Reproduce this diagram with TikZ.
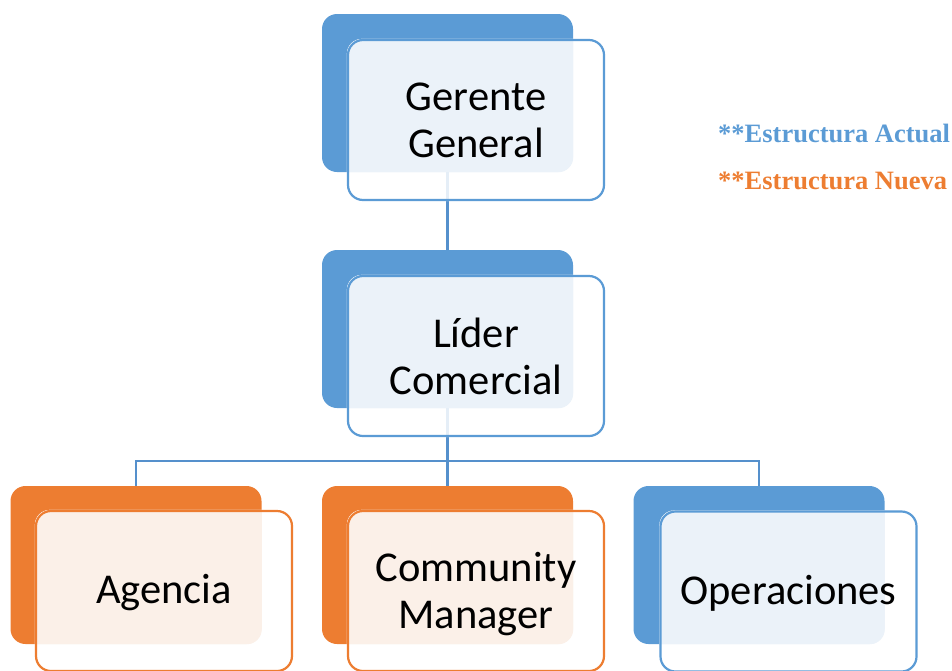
\documentclass[tikz,border=0pt]{standalone}
\usepackage{fontspec}
\setmainfont{Carlito}
\newfontfamily\legendfont{Liberation Serif}
\definecolor{bl}{HTML}{5B9BD5}
\definecolor{bllight}{HTML}{EBF2F9}
\definecolor{og}{HTML}{ED7D31}
\definecolor{oglight}{HTML}{FBF0E8}
\definecolor{conn}{HTML}{5590CC}
\pgfdeclarelayer{l1}\pgfdeclarelayer{l2}\pgfsetlayers{l1,l2,main}
\newcommand\overlapfill[3]{%
  \begin{scope}
    \clip[rounded corners=15pt] (#1.south west) rectangle (#1.north east);
    \fill[#3, rounded corners=15pt] (#2.south west) rectangle (#2.north east);
  \end{scope}}
\begin{document}
\begin{tikzpicture}[x=1pt,y=-1pt,
  backbox/.style={rectangle, rounded corners=15pt, fill=#1, draw=none, minimum width=251pt, minimum height=158pt, inner sep=0pt},
  frontbox/.style={rectangle, rounded corners=15pt, draw=#1, line width=2.2pt, minimum width=256pt, minimum height=160pt, inner sep=0pt},
  boxtext/.style={align=center, inner sep=0pt, font=\fontsize{42.5}{47}\selectfont},
  conline/.style={draw=conn, line width=2.8pt},
  legend/.style={anchor=base west, inner sep=0pt, font=\legendfont\bfseries\fontsize{26.5}{30}\selectfont}
]
\useasboundingbox (0,0) rectangle (952,670);
% front boxes
\node[frontbox=bl] (gf) at (476,120) {};
\node[frontbox=bl] (lf) at (476,356) {};
\node[frontbox=og] (af) at (164,591) {};
\node[frontbox=og] (cf) at (476,591) {};
\node[frontbox=bl] (of) at (788.5,591.5) {};
% texts
\node[boxtext] (gt) at (476,120) {Gerente\\General};
\node[boxtext] (lt) at (476,356) {Líder\\Comercial};
\node[boxtext] (at) at (164,593) {Agencia};
\node[boxtext] (ct) at (476,594) {Community\\Manager};
\node[boxtext] (ot) at (788.5,593) {Operaciones};
\begin{pgfonlayer}{l1}
  \node[backbox=bl] (gb) at (447.5,93) {};
  \node[backbox=bl] (lb) at (447.5,329) {};
  \node[backbox=og] (ab) at (136,565) {};
  \node[backbox=og] (cb) at (447.5,565) {};
  \node[backbox=bl] (ob) at (759,565) {};
  \coordinate (fork) at (447.5,461);
  \draw[conline] (gb.south) -- (lb.north);
  \draw[conline] (lb.south) -- (cb.north);
  \draw[conline] (ab.north) |- (fork) -| (ob.north);
\end{pgfonlayer}
\begin{pgfonlayer}{l2}
  \foreach \f in {gf,lf,af,cf,of}{
    \fill[white, opacity=0.85, rounded corners=15pt] (\f.south west) rectangle (\f.north east);
  }
  \overlapfill{gf}{gb}{bllight}
  \overlapfill{lf}{lb}{bllight}
  \overlapfill{af}{ab}{oglight}
  \overlapfill{cf}{cb}{oglight}
  \overlapfill{of}{ob}{bllight}
\end{pgfonlayer}
\node[legend, text=bl] (actual) at (718,142.5) {**Estructura Actual};
\node[legend, text=og] (nueva) at (718,189) {**Estructura Nueva};
\end{tikzpicture}
\end{document}
